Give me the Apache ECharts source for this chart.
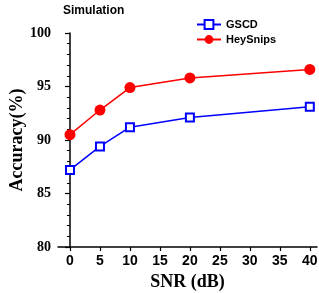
<!DOCTYPE html>
<html>
<head>
<meta charset="utf-8">
<script src="https://cdn.jsdelivr.net/npm/echarts@6/dist/echarts.min.js"></script>
<style>html,body{margin:0;padding:0;background:#fff}#c{width:319px;height:293px}</style>
</head>
<body>
<div id="c"></div>
<script>
const snr = [0, 5, 10, 20, 40];
const gscd = [87.2, 89.4, 91.2, 92.1, 93.1];
const heySnips = [90.5, 92.8, 94.9, 95.8, 96.6];
const xTicks = [0, 5, 10, 15, 20, 25, 30, 35, 40];
const yTicks = [80, 85, 90, 95, 100];

const chart = echarts.init(document.getElementById('c'), null, {renderer: 'canvas'});
chart.setOption({
  animation: false,
  title: {
    text: 'Simulation', left: 63, top: 5, padding: 0,
    textStyle: {fontFamily: 'Liberation Sans', fontWeight: 'bold', fontSize: 12, color: '#000'}
  },
  legend: {
    orient: 'vertical', left: 196, top: 19, padding: 0,
    itemWidth: 24, itemHeight: 11, itemGap: 4,
    textStyle: {fontFamily: 'Liberation Sans', fontWeight: 'bold', fontSize: 11, color: '#000'},
    data: ['GSCD', 'HeySnips']
  },
  grid: {left: 58, top: 33, right: 2, bottom: 46, containLabel: false, outerBoundsMode: 'none'},
  xAxis: {
    type: 'value', min: -2, max: 41.2,
    name: 'SNR (dB)', nameLocation: 'middle', nameGap: 26, nameMoveOverlap: false,
    nameTextStyle: {fontFamily: 'Liberation Serif', fontWeight: 'bold', fontSize: 18, color: '#000'},
    axisLine: {lineStyle: {color: '#000', width: 1.5}},
    axisTick: {show: true, length: 4, lineStyle: {color: '#000', width: 1.2}, customValues: xTicks},
    axisLabel: {customValues: xTicks, margin: 7, fontFamily: 'Liberation Sans', fontWeight: 'bold', fontSize: 14, color: '#000'},
    splitLine: {show: false}
  },
  yAxis: {
    type: 'value', min: 80, max: 100, interval: 5,
    name: 'Accuracy(%)', nameLocation: 'middle', nameGap: 32, nameMoveOverlap: false,
    nameTextStyle: {fontFamily: 'Liberation Serif', fontWeight: 'bold', fontSize: 18, color: '#000'},
    axisLine: {show: true, lineStyle: {color: '#000', width: 1.5}},
    axisTick: {show: true, length: 5, lineStyle: {color: '#000', width: 1.2}},
    minorTick: {show: true, splitNumber: 5, length: 3, lineStyle: {color: '#000', width: 1}},
    axisLabel: {margin: 7, fontFamily: 'Liberation Serif', fontWeight: 'bold', fontSize: 14, color: '#000',
      customValues: yTicks},
    splitLine: {show: false}
  },
  series: [
    {
      name: 'GSCD', type: 'line',
      data: snr.map((x, i) => [x, gscd[i]]),
      symbol: 'rect', symbolSize: 8,
      itemStyle: {color: '#fff', borderColor: '#0000ff', borderWidth: 2},
      lineStyle: {color: '#0000ff', width: 1.5},
      z: 3
    },
    {
      name: 'HeySnips', type: 'line',
      data: snr.map((x, i) => [x, heySnips[i]]),
      symbol: 'circle', symbolSize: 11,
      itemStyle: {color: '#ff0000', borderColor: '#ff0000', borderWidth: 0},
      lineStyle: {color: '#ff0000', width: 1.5},
      z: 2
    }
  ]
});
</script>
</body>
</html>
